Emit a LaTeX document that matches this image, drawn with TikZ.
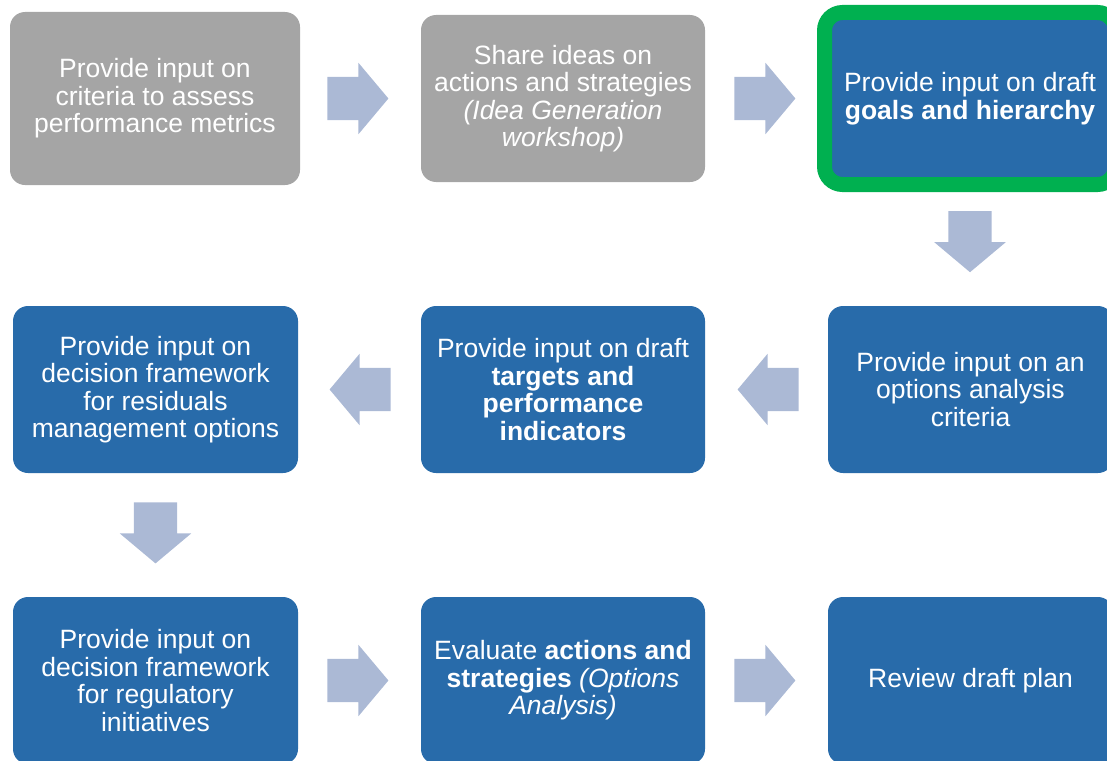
\documentclass[tikz,border=0pt]{standalone}
\usepackage{fontspec}
\setmainfont{Liberation Sans}
\usetikzlibrary{shapes.arrows, calc}
\definecolor{stepblue}{HTML}{286BAA}
\definecolor{stepgray}{HTML}{A5A5A5}
\definecolor{stepgreen}{HTML}{00B050}
\definecolor{arrowfill}{HTML}{ABB9D5}
\tikzstyle{boxes} = [rectangle, rounded corners=15pt, minimum width=285pt, minimum height=167pt, align=center, fill=stepblue, text=white, inner sep=0pt, font=\fontsize{26.5}{27.5}\selectfont]
\tikzstyle{donebox} = [boxes, fill=stepgray]
\tikzstyle{currentbox} = [boxes, draw=stepgreen, line width=15pt, rounded corners=18pt]
\tikzstyle{blockarrow} = [single arrow, fill=arrowfill, draw=none, inner xsep=0pt, inner ysep=21.5pt, single arrow head extend=14pt, single arrow tip angle=100, minimum height=61pt, anchor=tail]

\begin{document}
\begin{tikzpicture}[x=1pt, y=-1pt]
    \useasboundingbox (0,0) rectangle (1107,760);
    \clip (0,0) rectangle (1107,760);

    %Main Nodes
    \node (criteria) [donebox, minimum width=290pt, minimum height=173pt] at (155,98.5) {Provide input on\\criteria to assess\\performance metrics};
    \node (ideas) [donebox, minimum width=284pt] at (563,98.5) {Share ideas on\\actions and strategies\\\textit{(Idea Generation}\\\textit{workshop)}};
    \node (goals) [currentbox, minimum width=291pt, minimum height=172pt] at (970,98.5) {Provide input on draft\\\textbf{goals and hierarchy}};
    \node (options) [boxes] at (970.5,389.5) {Provide input on an\\options analysis\\criteria};
    \node (targets) [boxes, minimum width=284pt] at (563,389.5) {Provide input on draft\\\textbf{targets and}\\\textbf{performance}\\\textbf{indicators}};
    \node (residuals) [boxes] at (155.5,389.5) {Provide input on\\decision framework\\for residuals\\management options};
    \node (regulatory) [boxes] at (155.5,680.5) {Provide input on\\decision framework\\for regulatory\\initiatives};
    \node (evaluate) [boxes, minimum width=284pt] at (563,680.5) {Evaluate \textbf{actions and}\\\textbf{strategies} \textit{(Options}\\\textit{Analysis)}};
    \node (review) [boxes] at (970.5,680.5) {Review draft plan};

    %Arrows
    \node (arrA) [blockarrow] at ($(criteria.east)+(27,0)$) {};
    \node (arrB) [blockarrow] at ($(ideas.east)+(29,0)$) {};
    \node (arrC) [blockarrow, rotate=-90] at ($(goals.south)+(0,19)$) {};
    \node (arrD) [blockarrow, rotate=180] at ($(options.west)+(-29,0)$) {};
    \node (arrE) [blockarrow, rotate=180] at ($(targets.west)+(-30,0)$) {};
    \node (arrF) [blockarrow, rotate=-90] at ($(residuals.south)+(0,29)$) {};
    \node (arrG) [blockarrow] at ($(regulatory.east)+(29,0)$) {};
    \node (arrH) [blockarrow] at ($(evaluate.east)+(29,0)$) {};

\end{tikzpicture}
\end{document}
